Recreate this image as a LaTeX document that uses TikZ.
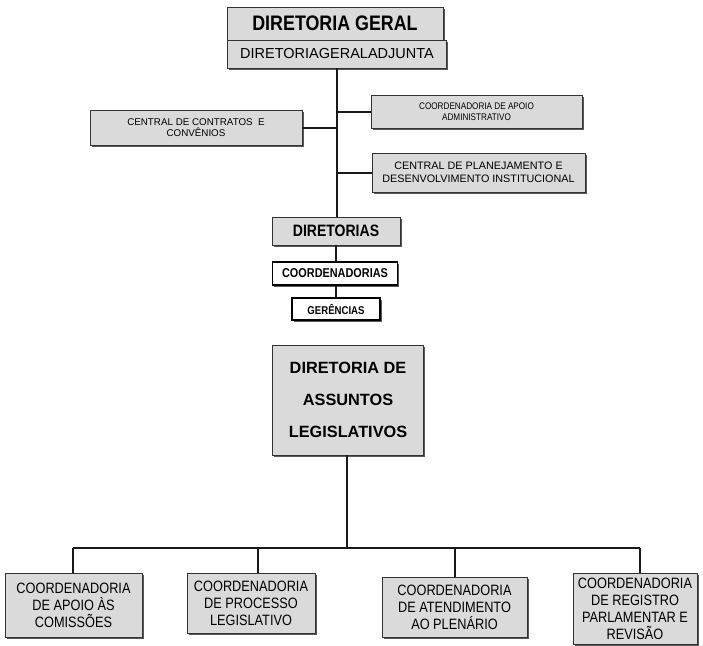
\documentclass[tikz,border=0pt]{standalone}
\usepackage{fontspec}
\setmainfont{Liberation Sans}
\newfontfamily\cond[FakeStretch=0.85]{Liberation Sans}
\usetikzlibrary{shadows}
\definecolor{boxgray}{RGB}{218,218,218}
\definecolor{linec}{RGB}{25,25,25}
\tikzset{
  shd/.style={drop shadow={shadow xshift=1.6pt,shadow yshift=-1.6pt,fill=black!65,opacity=1}},
  gbox/.style={draw=black!80,line width=0.8pt,fill=boxgray,shd,align=center,inner sep=0pt},
  wbox/.style={draw=black,line width=1.4pt,fill=white,shd,align=center,inner sep=0pt},
  conn/.style={draw=linec,line width=2pt},
}
\begin{document}
\begin{tikzpicture}[x=1pt,y=-1pt]
\useasboundingbox[fill=white] (0,0) rectangle (703,645);
% top part
\node[gbox,minimum width=216pt,minimum height=33pt,font=\cond\bfseries\fontsize{21}{24}\selectfont] (dg) at (335,23.5) {DIRETORIA GERAL};
\node[gbox,minimum width=219pt,minimum height=28pt,font=\fontsize{14.5}{17}\selectfont] (adj) at (337,54) {DIRETORIAGERALADJUNTA};
\node[gbox,minimum width=212pt,minimum height=35pt,font=\fontsize{9.8}{11.5}\selectfont] (contr) at (196,127.5) {CENTRAL DE CONTRATOS\ \ E\\CONVÊNIOS};
\node[gbox,minimum width=211pt,minimum height=33pt,font=\cond\fontsize{9.6}{10.5}\selectfont] (apoio) at (476.5,111.5) {COORDENADORIA DE APOIO\\ADMINISTRATIVO};
\node[gbox,minimum width=213pt,minimum height=39pt,font=\fontsize{10.8}{13}\selectfont] (plan) at (478.5,172.5) {CENTRAL DE PLANEJAMENTO E\\DESENVOLVIMENTO INSTITUCIONAL};
\node[gbox,minimum width=128pt,minimum height=28pt,font=\cond\bfseries\fontsize{16.5}{18}\selectfont] (dirs) at (336,231) {DIRETORIAS};
\node[wbox,minimum width=125pt,minimum height=23pt,font=\cond\bfseries\fontsize{12.8}{14}\selectfont] (coords) at (335,273.5) {COORDENADORIAS};
\node[wbox,minimum width=88pt,minimum height=22pt,font=\cond\bfseries\fontsize{11.3}{12}\selectfont] (ger) at (336,309) {GERÊNCIAS};
% trunk connectors
\coordinate (t1) at (337,68);
\coordinate (t2) at (337,217);
\draw[conn] (t1) -- (t2);
\draw[conn] (contr.east) -- (contr.east -| t1);
\draw[conn] (apoio.west) -- (apoio.west -| t1);
\draw[conn] (plan.west) -- (plan.west -| t1);
\draw[conn] (dirs.south) -- (dirs.south |- coords.north);
\draw[conn] (dirs.south |- coords.south) -- (dirs.south |- ger.north);
% lower part
\node[gbox,minimum width=151pt,minimum height=110pt,font=\bfseries\fontsize{16.3}{32}\selectfont] (dal) at (348,400) {DIRETORIA DE\\ASSUNTOS\\LEGISLATIVOS};
\node[gbox,minimum width=137pt,minimum height=64pt,font=\cond\fontsize{15}{17}\selectfont] (b1) at (73.5,605) {COORDENADORIA\\DE APOIO ÀS\\COMISSÕES};
\node[gbox,minimum width=128pt,minimum height=60pt,font=\cond\fontsize{15}{17}\selectfont] (b2) at (251,603) {COORDENADORIA\\DE PROCESSO\\LEGISLATIVO};
\node[gbox,minimum width=145pt,minimum height=60pt,font=\cond\fontsize{15}{17}\selectfont] (b3) at (454.5,607) {COORDENADORIA\\DE ATENDIMENTO\\AO PLENÁRIO};
\node[gbox,minimum width=124pt,minimum height=71pt,font=\cond\fontsize{15}{17}\selectfont] (b4) at (635,608.5) {COORDENADORIA\\DE REGISTRO\\PARLAMENTAR E\\REVISÃO};
\coordinate (bar) at (347,548);
\coordinate (d1) at (73,548);
\coordinate (d2) at (258,548);
\coordinate (d3) at (455,548);
\coordinate (d4) at (640,548);
\draw[conn] (dal.south -| bar) -- (bar);
\draw[conn] (d1) -- (d4);
\draw[conn] (d1) -- (d1 |- b1.north);
\draw[conn] (d2) -- (d2 |- b2.north);
\draw[conn] (d3) -- (d3 |- b3.north);
\draw[conn] (d4) -- (d4 |- b4.north);
\end{tikzpicture}
\end{document}
